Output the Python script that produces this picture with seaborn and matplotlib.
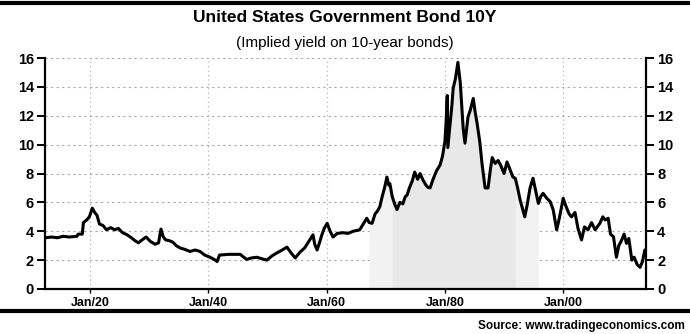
import matplotlib
matplotlib.use("Agg")
import matplotlib.pyplot as plt
import seaborn as sns
import pandas as pd
from matplotlib.lines import Line2D

# ---- data ----
years = [1912.5, 1913.5, 1914.5, 1915.5, 1916.5, 1917.8, 1918.0, 1918.7, 1918.9, 1919.5,
         1919.9, 1920.4, 1920.8, 1921.2, 1921.6, 1922.2, 1922.8, 1923.5, 1924.2, 1924.8,
         1925.5, 1926.3, 1927.0, 1927.6, 1928.2, 1928.8, 1929.5, 1930.2, 1931.0, 1931.6,
         1932.0, 1932.4, 1932.8, 1933.4, 1934.0, 1934.6, 1935.2, 1936.0, 1936.9, 1937.8,
         1938.6, 1939.4, 1940.3, 1941.0, 1941.5, 1941.9, 1943.5, 1945.4, 1946.0, 1946.5,
         1947.3, 1948.2, 1949.0, 1949.9, 1950.8, 1951.6, 1952.5, 1953.3, 1954.0, 1954.7,
         1955.5, 1956.3, 1957.0, 1957.7, 1958.0, 1958.4, 1958.8, 1959.2, 1959.6, 1960.1,
         1960.6, 1961.1, 1961.8, 1962.8, 1963.6, 1964.5, 1965.6, 1966.2, 1966.8, 1967.2,
         1967.7, 1968.2, 1968.6, 1969.0, 1969.4, 1969.8, 1970.2, 1970.5, 1970.7, 1971.1,
         1971.5, 1971.9, 1972.4, 1972.9, 1973.3, 1973.6, 1974.0, 1974.5, 1974.9, 1975.4,
         1975.8, 1976.3, 1976.8, 1977.1, 1977.5, 1978.0, 1978.6, 1979.2, 1979.6, 1980.0,
         1980.2, 1980.4, 1980.5, 1980.9, 1981.2, 1981.4, 1981.8, 1982.2, 1982.6, 1982.9,
         1983.1, 1983.4, 1983.9, 1984.3, 1984.8, 1985.1, 1985.4, 1985.9, 1986.3, 1986.8,
         1987.3, 1987.7, 1988.0, 1988.5, 1989.0, 1989.4, 1990.0, 1990.5, 1990.9, 1991.5,
         1991.9, 1992.3, 1992.7, 1993.1, 1993.5, 1993.9, 1994.4, 1994.9, 1995.3, 1995.8,
         1996.2, 1996.6, 1997.2, 1997.8, 1998.3, 1998.9, 1999.4, 2000.0, 2000.4, 2001.0,
         2001.4, 2002.0, 2002.5, 2003.1, 2003.6, 2004.2, 2004.8, 2005.4, 2006.2, 2006.7,
         2007.1, 2007.6, 2008.0, 2008.5, 2009.0, 2009.4, 2009.9, 2010.3, 2010.7, 2011.1,
         2011.6, 2012.0, 2012.5, 2013.0, 2013.4, 2013.8]
yields = [3.55, 3.6, 3.55, 3.65, 3.6, 3.65, 3.8, 3.8, 4.6, 4.8,
          5.0, 5.6, 5.3, 5.1, 4.5, 4.4, 4.1, 4.25, 4.1, 4.2,
          3.9, 3.75, 3.55, 3.35, 3.2, 3.4, 3.6, 3.3, 3.1, 3.2,
          4.15, 3.6, 3.4, 3.35, 3.25, 3.0, 2.85, 2.75, 2.6, 2.7,
          2.6, 2.35, 2.2, 2.05, 1.9, 2.35, 2.4, 2.4, 2.2, 2.05,
          2.15, 2.2, 2.1, 2.0, 2.3, 2.5, 2.7, 2.9, 2.5, 2.15,
          2.55, 2.85, 3.3, 3.75, 3.1, 2.7, 3.2, 3.75, 4.2, 4.55,
          4.0, 3.6, 3.85, 3.9, 3.85, 4.0, 4.1, 4.5, 4.9, 4.6,
          4.55, 5.2, 5.4, 5.7, 6.4, 7.0, 7.75, 7.2, 7.3, 6.4,
          5.9, 5.5, 6.0, 5.9, 6.4, 6.5, 7.0, 7.5, 8.1, 7.6,
          8.0, 7.55, 7.2, 7.05, 7.0, 7.6, 8.2, 8.6, 9.2, 10.2,
          11.5, 13.4, 9.8, 11.5, 12.8, 13.9, 14.6, 15.7, 14.3, 12.4,
          11.1, 10.1, 11.9, 12.4, 13.2, 12.3, 11.6, 10.2, 8.6, 7.0,
          7.0, 8.3, 9.1, 8.7, 8.9, 8.6, 8.0, 8.8, 8.4, 7.75,
          7.67, 7.0, 6.2, 5.6, 5.0, 5.8, 7.0, 7.67, 6.9, 5.93,
          6.4, 6.63, 6.3, 6.05, 5.5, 4.1, 5.0, 6.28, 5.8, 5.2,
          5.0, 5.3, 4.2, 3.4, 4.3, 4.1, 4.6, 4.1, 4.55, 5.0,
          4.78, 4.9, 3.8, 3.62, 2.2, 3.0, 3.4, 3.8, 3.16, 3.5,
          2.0, 2.2, 1.7, 1.5, 1.9, 2.7]

x_ticks = [1920, 1940, 1960, 1980, 2000]
x_tick_labels = ["Jan/20", "Jan/40", "Jan/60", "Jan/80", "Jan/00"]
y_ticks = [0, 2, 4, 6, 8, 10, 12, 14, 16]

title = "United States Government Bond 10Y"
subtitle = "(Implied yield on 10-year bonds)"
source = "Source: www.tradingeconomics.com"

df = pd.DataFrame({"year": years, "yield": yields})

sns.set_style("white")
plt.rcParams["font.family"] = ["Liberation Sans", "DejaVu Sans"]

fig = plt.figure(figsize=(6.9, 3.34), dpi=100)
ax = fig.add_axes([45 / 690, 45 / 334, (646 - 45) / 690, (289 - 58) / 334])

# light shading under the curve around the peak years (soft edges)
for lo, hi, col in [(1967, 1996, "#f2f2f2"), (1971, 1992, "#e8e8e8")]:
    mask = (df["year"] >= lo) & (df["year"] <= hi)
    ax.fill_between(df["year"], 0, df["yield"], where=mask, color=col,
                    linewidth=0, zorder=1)

sns.lineplot(data=df, x="year", y="yield", ax=ax, color="black",
             linewidth=2.2, zorder=3, sort=False)

ax.set_xlim(1912.4, 2014.0)
ax.set_ylim(0, 16)
ax.set_xticks(x_ticks)
ax.set_xticklabels(x_tick_labels)
ax.set_yticks(y_ticks)
ax.set_xlabel("")
ax.set_ylabel("")

# grid
for y in y_ticks[1:]:
    ax.axhline(y, color="#a8a8a8", linewidth=0.8, linestyle=(0, (2, 3)), zorder=0)
for x in x_ticks:
    ax.axvline(x, color="#a8a8a8", linewidth=0.8, linestyle=(0, (1, 3)), zorder=0)

# spines
for side in ["left", "bottom", "right"]:
    ax.spines[side].set_visible(True)
    ax.spines[side].set_color("black")
    ax.spines[side].set_linewidth(1.6)
ax.spines["top"].set_visible(False)

ax.tick_params(axis="y", which="both", left=True, right=True, labelleft=True,
               labelright=True, direction="out", length=6, width=1.4,
               labelsize=10.5, pad=2, colors="black")
ax.tick_params(axis="x", bottom=True, direction="out", length=3, width=1.0,
               labelsize=9, pad=3, colors="black")
for lab in ax.get_yticklabels() + ax.get_xticklabels():
    lab.set_fontweight("bold")

# title / subtitle
fig.text(0.5, 0.948, title, ha="center", va="center", fontsize=12.5,
         fontweight="bold", color="black")
fig.text(0.5, 0.872, subtitle, ha="center", va="center", fontsize=11,
         color="black")

# rules
fig.add_artist(Line2D([0.0, 1.0], [0.99, 0.99], transform=fig.transFigure,
                      color="black", linewidth=3))
fig.add_artist(Line2D([0.0, 1.0], [0.069, 0.069], transform=fig.transFigure,
                      color="black", linewidth=3))

fig.text(0.993, 0.024, source, ha="right", va="center", fontsize=8.5,
         fontweight="bold", color="black")

fig.savefig("out.png", dpi=100)
